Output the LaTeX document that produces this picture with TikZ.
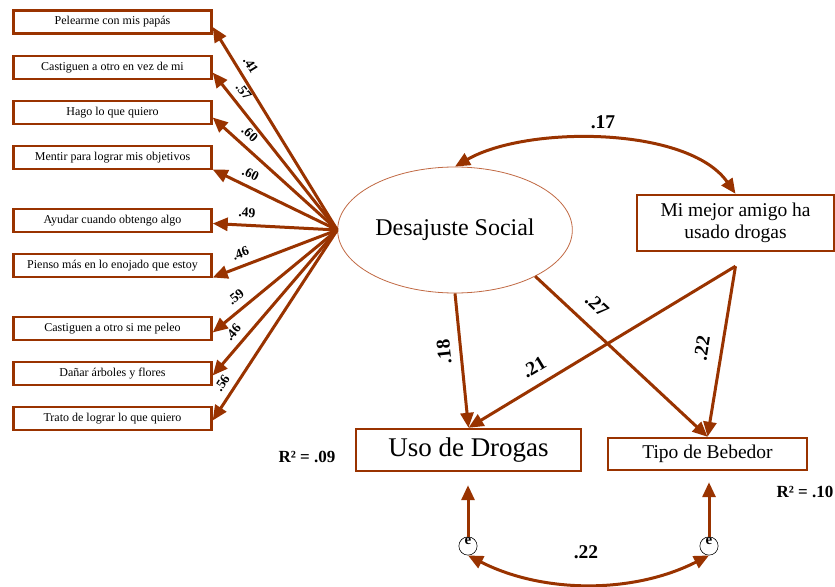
\documentclass[tikz,border=0pt]{standalone}
\usepackage{fontspec}
\setmainfont{Liberation Serif}
\usetikzlibrary{arrows.meta,positioning,shapes.geometric}
\definecolor{sembrown}{RGB}{153,51,0}
\definecolor{semlight}{RGB}{192,104,66}

\begin{document}
\begin{tikzpicture}[x=1bp,y=-1bp,
  item/.style={draw=sembrown, line width=2.4bp, minimum width=198bp, minimum height=23bp, inner sep=1bp, font=\fontsize{12bp}{14bp}\selectfont},
  varbox/.style={draw=sembrown, line width=2.4bp, inner sep=1bp},
  effect/.style={sembrown, line width=3bp, -{Triangle[length=15bp,width=13bp]}},
  corr/.style={sembrown, line width=3bp, {Triangle[length=15bp,width=13bp]}-{Triangle[length=15bp,width=13bp]}},
  coef/.style={text=black, font=\bfseries\fontsize{19.5bp}{20bp}\selectfont, inner sep=0.5bp},
  smallcoef/.style={text=black, font=\bfseries\fontsize{13.5bp}{14bp}\selectfont, inner sep=0.5bp},
  errterm/.style={circle, draw, line width=0.6bp, minimum size=17bp, inner sep=0pt, font=\bfseries\fontsize{15bp}{15bp}\selectfont}]
  \useasboundingbox (0,0) rectangle (835,587);
  % Latent variable
  \node[ellipse, draw=semlight, line width=0.8bp, minimum width=216bp, minimum height=126bp,
        font=\fontsize{24bp}{26bp}\selectfont] (soc) at (455,230) {Desajuste Social};
  % Indicators with loadings
  \foreach \n/\y/\dy/\w/\p/\t in {1/22/5/.41/.78/Pelearme con mis papás,
      2/67.5/5/.57/.83/Castiguen a otro en vez de mi,
      3/112.5/5/.60/.77/Hago lo que quiero,
      4/157.5/12/.60/.74/Mentir para lograr mis objetivos,
      5/220.5/3/.49/.73/Ayudar cuando obtengo algo,
      6/265.5/12/.46/.74/Pienso más en lo enojado que estoy,
      7/328.5/4/.59/.75/Castiguen a otro si me peleo,
      8/373.5/2/.46/.76/Dañar árboles y  flores,
      9/418.5/2/.56/.84/Trato de lograr lo que quiero} {
    \node[item] (l\n) at (112.5,\y) {\t};
    \draw[effect] (soc.west) -- ([yshift=-\dy bp]l\n.east)
      node[smallcoef, sloped, above=6bp, pos=\p] (w\n) {\w};
  }
  % Observed variables
  \node[varbox, minimum width=197bp, minimum height=56bp, align=center,
        font=\fontsize{19.5bp}{22bp}\selectfont] (amigo) at (735.5,223) {Mi mejor amigo ha\\usado drogas};
  \node[varbox, minimum width=225bp, minimum height=42bp,
        font=\fontsize{27bp}{30bp}\selectfont] (uso) at (468.5,450) {Uso de Drogas};
  \node[varbox, minimum width=199bp, minimum height=32bp,
        font=\fontsize{19.5bp}{22bp}\selectfont] (tipo) at (707.5,454) {Tipo de Bebedor};
  \coordinate (amigosrc) at ([yshift=-14bp]amigo.south);
  % Covariance on top
  \draw[corr] (soc.north) to[out=30,in=125,looseness=0.75] (amigo.north);
  \node[coef] (c17) at (603,122) {.17};
  % Paths
  \draw[effect] (soc.south) -- (uso.north);
  \draw[effect] (soc.-30) -- (tipo.north);
  \draw[effect] (amigosrc) -- (uso.north);
  \draw[effect] (amigosrc) -- (tipo.north);
  \node[coef, rotate=96] (c18) at (444,352) {.18};
  \node[coef, rotate=-43] (c27) at (597,305) {.27};
  \node[coef, rotate=31] (c21) at (534,367) {.21};
  \node[coef, rotate=81] (c22) at (702,348) {.22};
  % Explained variance
  \node[font=\bfseries\fontsize{17bp}{17bp}\selectfont] (r1) at (307,457) {R² = .09};
  \node[font=\bfseries\fontsize{17bp}{17bp}\selectfont] (r2) at (805,492) {R² = .10};
  % Error terms
  \node[errterm] (e1) at (468,546) {\raisebox{10bp}{e}};
  \node[errterm] (e2) at (709,546) {\raisebox{10bp}{e}};
  \draw[effect, shorten >=13bp] (e1) -- (e1 |- uso.south);
  \draw[effect, shorten >=11bp] (e2) -- (e2 |- tipo.south);
  \draw[corr] (e1.south) to[out=-27,in=-153,looseness=0.9] (e2.south);
  \node[coef] (ce) at (586,552) {.22};
\end{tikzpicture}
\end{document}
